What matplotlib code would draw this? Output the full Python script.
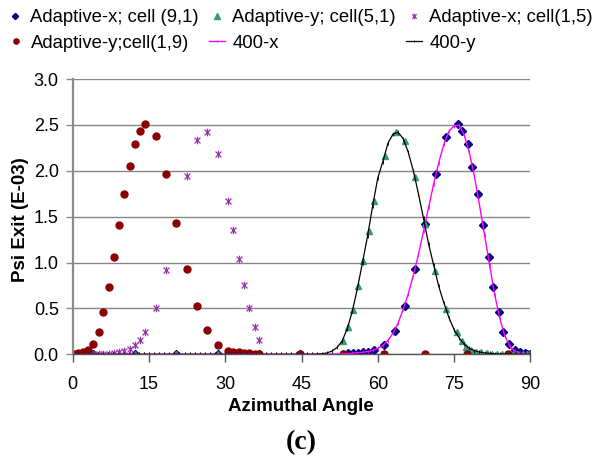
import numpy as np
import matplotlib
matplotlib.use("Agg")
import matplotlib.pyplot as plt
from matplotlib.path import Path

# --- datos ---
# malla adaptativa de las series "cell(1,9)" y "cell(1,5)"
xa = [0.1, 0.6, 1.1, 2.1, 3.07, 4.0, 5.1, 6.03, 7.14, 8.06, 9.17, 10.15, 11.2, 12.2,
      13.25, 14.2, 16.3, 18.35, 20.4, 22.4, 24.4, 26.5, 28.55, 30.6, 31.6, 32.7, 33.7,
      34.7, 35.8, 36.7, 44.8, 53.1, 61.3, 69.3, 77.6, 85.6]
y_red = [0.005, 0.008, 0.012, 0.02, 0.047, 0.109, 0.247, 0.458, 0.737, 1.06, 1.41, 1.75,
         2.05, 2.29, 2.435, 2.51, 2.38, 1.97, 1.435, 0.93, 0.53, 0.26, 0.10, 0.04, 0.03,
         0.02, 0.015, 0.01, 0.005, 0.005, 0, 0, 0, 0, 0, 0]
y_purple = [0, 0, 0.001, 0.002, 0.003, 0.004, 0.005, 0.006, 0.008, 0.012, 0.02, 0.036,
            0.054, 0.098, 0.156, 0.24, 0.505, 0.92, 1.43, 1.94, 2.33, 2.42, 2.18, 1.675,
            1.35, 1.036, 0.75, 0.50, 0.30, 0.16, 0, 0, 0, 0, 0, 0]

# Adaptive-y; cell(5,1)
x_teal = [4.05, 12.25, 20.4, 28.55, 36.7, 44.8, 53.1, 54.05, 55.1, 56.1, 57.1, 58.2, 59.2,
          61.33, 63.5, 65.33, 67.3, 69.3, 71.35, 73.4, 75.6, 76.5, 77.45, 78.4, 79.4, 80.4,
          81.4, 82.4, 83.4, 84.4, 85.4, 86.5, 87.5, 88.5, 89.4, 89.9]
y_teal = [0, 0, 0, 0, 0, 0, 0.148, 0.294, 0.486, 0.745, 1.02, 1.345, 1.675, 2.166, 2.42,
          2.32, 1.937, 1.42, 0.91, 0.494, 0.24, 0.145, 0.083, 0.05, 0.03, 0.02, 0.012,
          0.008, 0.005, 0.004, 0.003, 0.002, 0.001, 0, 0, 0]

# Adaptive-x; cell (9,1)
x_blue = [4.05, 12.25, 20.4, 28.55, 36.7, 44.8, 53.1, 54.05, 55.1, 56.1, 57.1, 58.1, 59.2,
          61.3, 63.3, 65.3, 67.35, 69.3, 71.4, 73.5, 75.7, 76.6, 77.7, 78.6, 79.7, 80.7,
          81.8, 82.7, 83.8, 84.7, 85.8, 86.9, 87.9, 88.9, 89.4, 89.9]
y_blue = [0, 0, 0, 0, 0, 0, 0.005, 0.01, 0.012, 0.015, 0.02, 0.03, 0.043, 0.105, 0.255,
          0.527, 0.927, 1.42, 1.966, 2.37, 2.51, 2.435, 2.29, 2.04, 1.75, 1.406, 1.06, 0.73,
          0.458, 0.243, 0.109, 0.047, 0.02, 0.01, 0.007, 0.005]

# curvas de referencia (400 celdas), leidas cada grado
x_ref = list(range(0, 91))
y_400y = [0] * 48 + [0.002, 0.006, 0.015, 0.035, 0.075, 0.145, 0.28, 0.47, 0.72, 1.0,
                     1.29, 1.62, 1.92, 2.1, 2.3, 2.4, 2.42, 2.35, 2.2, 2.0, 1.75, 1.48,
                     1.2, 0.97, 0.74, 0.56, 0.4, 0.27, 0.18, 0.11, 0.065, 0.04, 0.025,
                     0.015, 0.01, 0.006, 0.004, 0.003, 0.002, 0.001, 0, 0, 0]
y_400x = [0] * 50 + [0.001, 0.002, 0.003, 0.005, 0.008, 0.012, 0.016, 0.022, 0.03, 0.042,
                     0.065, 0.095, 0.15, 0.23, 0.34, 0.49, 0.66, 0.86, 1.09, 1.34, 1.6,
                     1.86, 2.09, 2.29, 2.43, 2.49, 2.5, 2.39, 2.2, 1.94, 1.63, 1.3, 0.97,
                     0.65, 0.39, 0.2, 0.085, 0.033, 0.012, 0.004, 0]

xticks = [0, 15, 30, 45, 60, 75, 90]
yticks = [0.0, 0.5, 1.0, 1.5, 2.0, 2.5, 3.0]

# marcador tipo Excel: aspa con linea vertical
star = Path([(-1, -1), (1, 1), (-1, 1), (1, -1), (0, -1.3), (0, 1.3)],
            [Path.MOVETO, Path.LINETO, Path.MOVETO, Path.LINETO, Path.MOVETO, Path.LINETO])

plt.rcParams['font.family'] = ['Liberation Sans', 'DejaVu Sans']
W, H = 595, 462
FS = 13.3

fig = plt.figure(figsize=(W / 100, H / 100), dpi=100)
ax = fig.add_axes([72.7 / W, (H - 354.3) / H, (530.3 - 72.7) / W, (354.3 - 79) / H])

h_blue, = ax.plot(x_blue, y_blue, ls='none', marker='D', ms=4.2, color='#000080',
                  mec='#000080', label='Adaptive-x; cell (9,1)')
h_teal, = ax.plot(x_teal, y_teal, ls='none', marker='^', ms=5.0, color='#339977',
                  label='Adaptive-y; cell(5,1)')
h_purple, = ax.plot(xa, y_purple, ls='none', marker=star, ms=5.5, mew=0.9,
                    color='#9933AA', label='Adaptive-x; cell(1,5)')
h_red, = ax.plot(xa, y_red, ls='none', marker='o', ms=5.0, color='#8B0000',
                 label='Adaptive-y;cell(1,9)')
h_400x, = ax.plot(x_ref, y_400x, '-', lw=1.0, color='#FF00FF', marker='|', ms=2.5,
                  mew=0.6, label='400-x')
h_400y, = ax.plot(x_ref, y_400y, '-', lw=0.9, color='black', marker='|', ms=2.5,
                  mew=0.6, label='400-y')

ax.set_xlim(0, 90)
ax.set_ylim(0, 3.0)
ax.set_xticks(xticks)
ax.set_yticks(yticks)
ax.set_yticklabels([f"{v:.1f}" for v in yticks])
ax.grid(True, axis='y', color='#868686', lw=1.0)
ax.set_axisbelow(True)

for s in ['top', 'right']:
    ax.spines[s].set_visible(False)
ax.spines['left'].set_color('#8c8c8c')
ax.spines['left'].set_linewidth(1.6)
ax.spines['bottom'].set_color('#555555')
ax.spines['bottom'].set_linewidth(1.0)
ax.tick_params(axis='y', direction='out', length=5, width=1, color='#8c8c8c',
               labelsize=13, pad=5)
ax.tick_params(axis='x', direction='out', length=6, width=1, color='#555555',
               labelsize=13, pad=9.5)

fig.text(301 / W, 1 - 406.5 / H, 'Azimuthal Angle', fontsize=13.5, fontweight='bold',
         ha='center', va='center')
fig.text(21 / W, 1 - 220 / H, 'Psi Exit (E-03)', rotation=90, fontsize=13.5,
         fontweight='bold', ha='center', va='center')
fig.text(301 / W, 1 - 443 / H, '(c)', fontsize=20, fontweight='bold',
         family=['Liberation Serif', 'DejaVu Serif'], ha='center', va='center')

# leyenda en columnas, como en Excel: cada entrada en su sitio
HL = 0.9
entries = [(h_blue, 15, 18), (h_teal, 217, 18), (h_purple, 414, 18),
           (h_red, 16, 43), (h_400x, 217, 43), (h_400y, 414, 43)]
for h, xc, yc in entries:
    x0 = xc - HL * FS * 100 / 72 / 2
    fig.legend(handles=[h], labels=[h.get_label()], loc='center left',
               bbox_to_anchor=(x0 / W, 1 - yc / H), frameon=False, fontsize=FS,
               markerscale=0.75, handlelength=HL, handletextpad=0.38,
               borderpad=0, borderaxespad=0)

fig.savefig('out.png', dpi=100)
